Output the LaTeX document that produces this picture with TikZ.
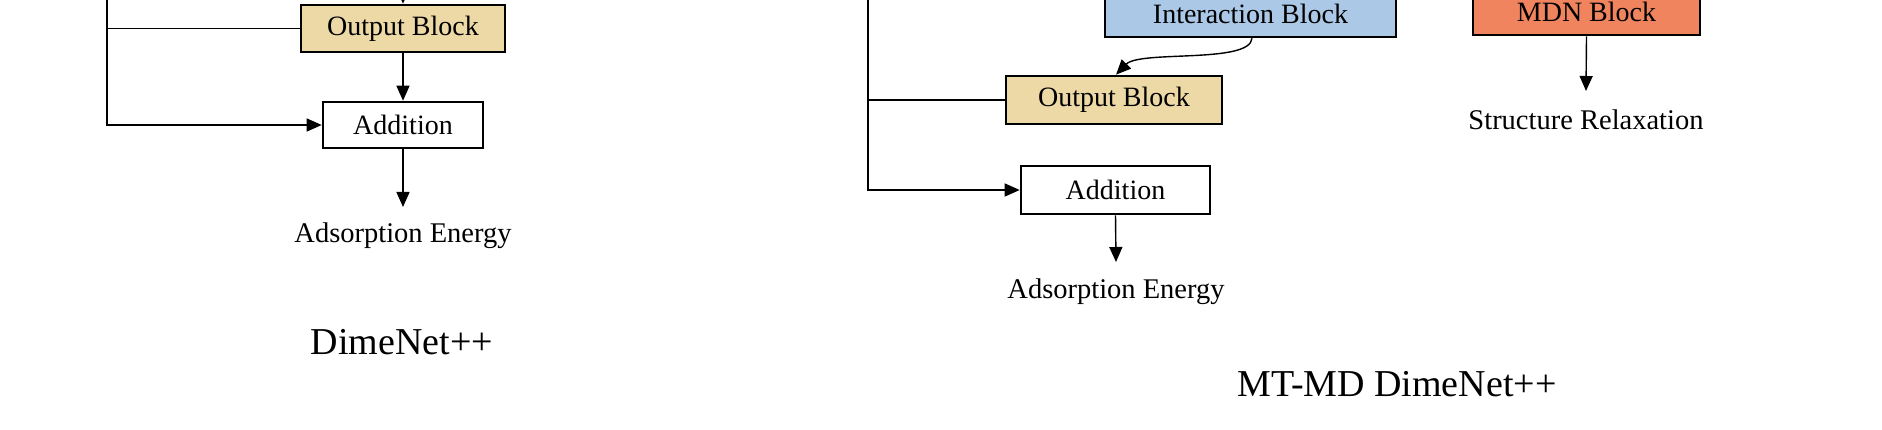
\documentclass[tikz,border=0pt]{standalone}
\usepackage{fontspec}
\setmainfont{Liberation Serif}
\usetikzlibrary{arrows.meta}
\definecolor{outfill}{HTML}{EDD9A6}
\definecolor{intfill}{HTML}{ABC9E6}
\definecolor{mdnfill}{HTML}{F0845E}
\tikzset{
  blk/.style={draw=black, line width=2.6pt, inner sep=0pt, font=\fontsize{28}{32}\selectfont},
  lbl/.style={inner sep=0pt, font=\fontsize{28.5}{32}\selectfont},
  ttl/.style={inner sep=0pt, font=\fontsize{38}{44}\selectfont},
  conn/.style={line width=1.4pt, draw=black},
  arr/.style={conn, -{Triangle[length=15pt,width=13pt]}}
}
\begin{document}
\begin{tikzpicture}[x=1pt,y=-1pt]
\useasboundingbox (0,0) rectangle (1882,430);
\clip (0,0) rectangle (1882,430);
\fill[white] (0,0) rectangle (1882,430);
% ---------- left: DimeNet++ ----------
\node[blk, fill=outfill, minimum width=204pt, minimum height=47pt] (outL) at (403,28.5) {Output Block};
\node[blk, fill=white, minimum width=160pt, minimum height=46pt] (addL) at (403,125) {Addition};
\node[lbl] (adsL) at (403,236) {Adsorption Energy};
\node[ttl] (titL) at (402,342) {DimeNet++};
\coordinate (topL) at (107,-20);
\coordinate (inL) at (403,-20);
\coordinate (brL) at (107,28.5);
\coordinate (endL) at (403,207);
\draw[conn] (brL) -- (outL.west);
\draw[arr] (topL) |- (addL.west);
\draw[arr] (inL) -- (outL.north);
\draw[arr] (outL.south) -- (addL.north);
\draw[arr] (addL.south) -- (endL);
% ---------- right: MT-MD DimeNet++ ----------
\node[blk, fill=intfill, minimum width=291pt, minimum height=47pt] (intR) at (1250.5,13.5) {Interaction Block};
\node[blk, fill=mdnfill, minimum width=227pt, minimum height=47pt] (mdnR) at (1586.5,11.5) {MDN Block};
\node[blk, fill=outfill, minimum width=216pt, minimum height=48pt] (outR) at (1114,100) {Output Block};
\node[blk, fill=white, minimum width=189pt, minimum height=48pt] (addR) at (1115.5,190) {Addition};
\node[lbl] (adsR) at (1116,292) {Adsorption Energy};
\node[lbl] (strR) at (1586,120) {Structure Relaxation};
\node[ttl] (titR) at (1397,384) {MT-MD DimeNet++};
\coordinate (topR) at (868,-20);
\coordinate (brR) at (868,100);
\coordinate (endR) at (1116,262);
\coordinate (endM) at (1586,91);
\coordinate (intOut) at (1252,37);
\coordinate (outIn) at (1116,76);
\draw[conn] (brR) -- (outR.west);
\draw[arr] (topR) |- (addR.west);
\draw[arr] (intR.south -| intOut) .. controls (1250,64) and (1140,50) .. (outR.north -| outIn);
\draw[arr] (addR.south) -- (endR);
\draw[arr] (mdnR.south) -- (endM);
\end{tikzpicture}
\end{document}
